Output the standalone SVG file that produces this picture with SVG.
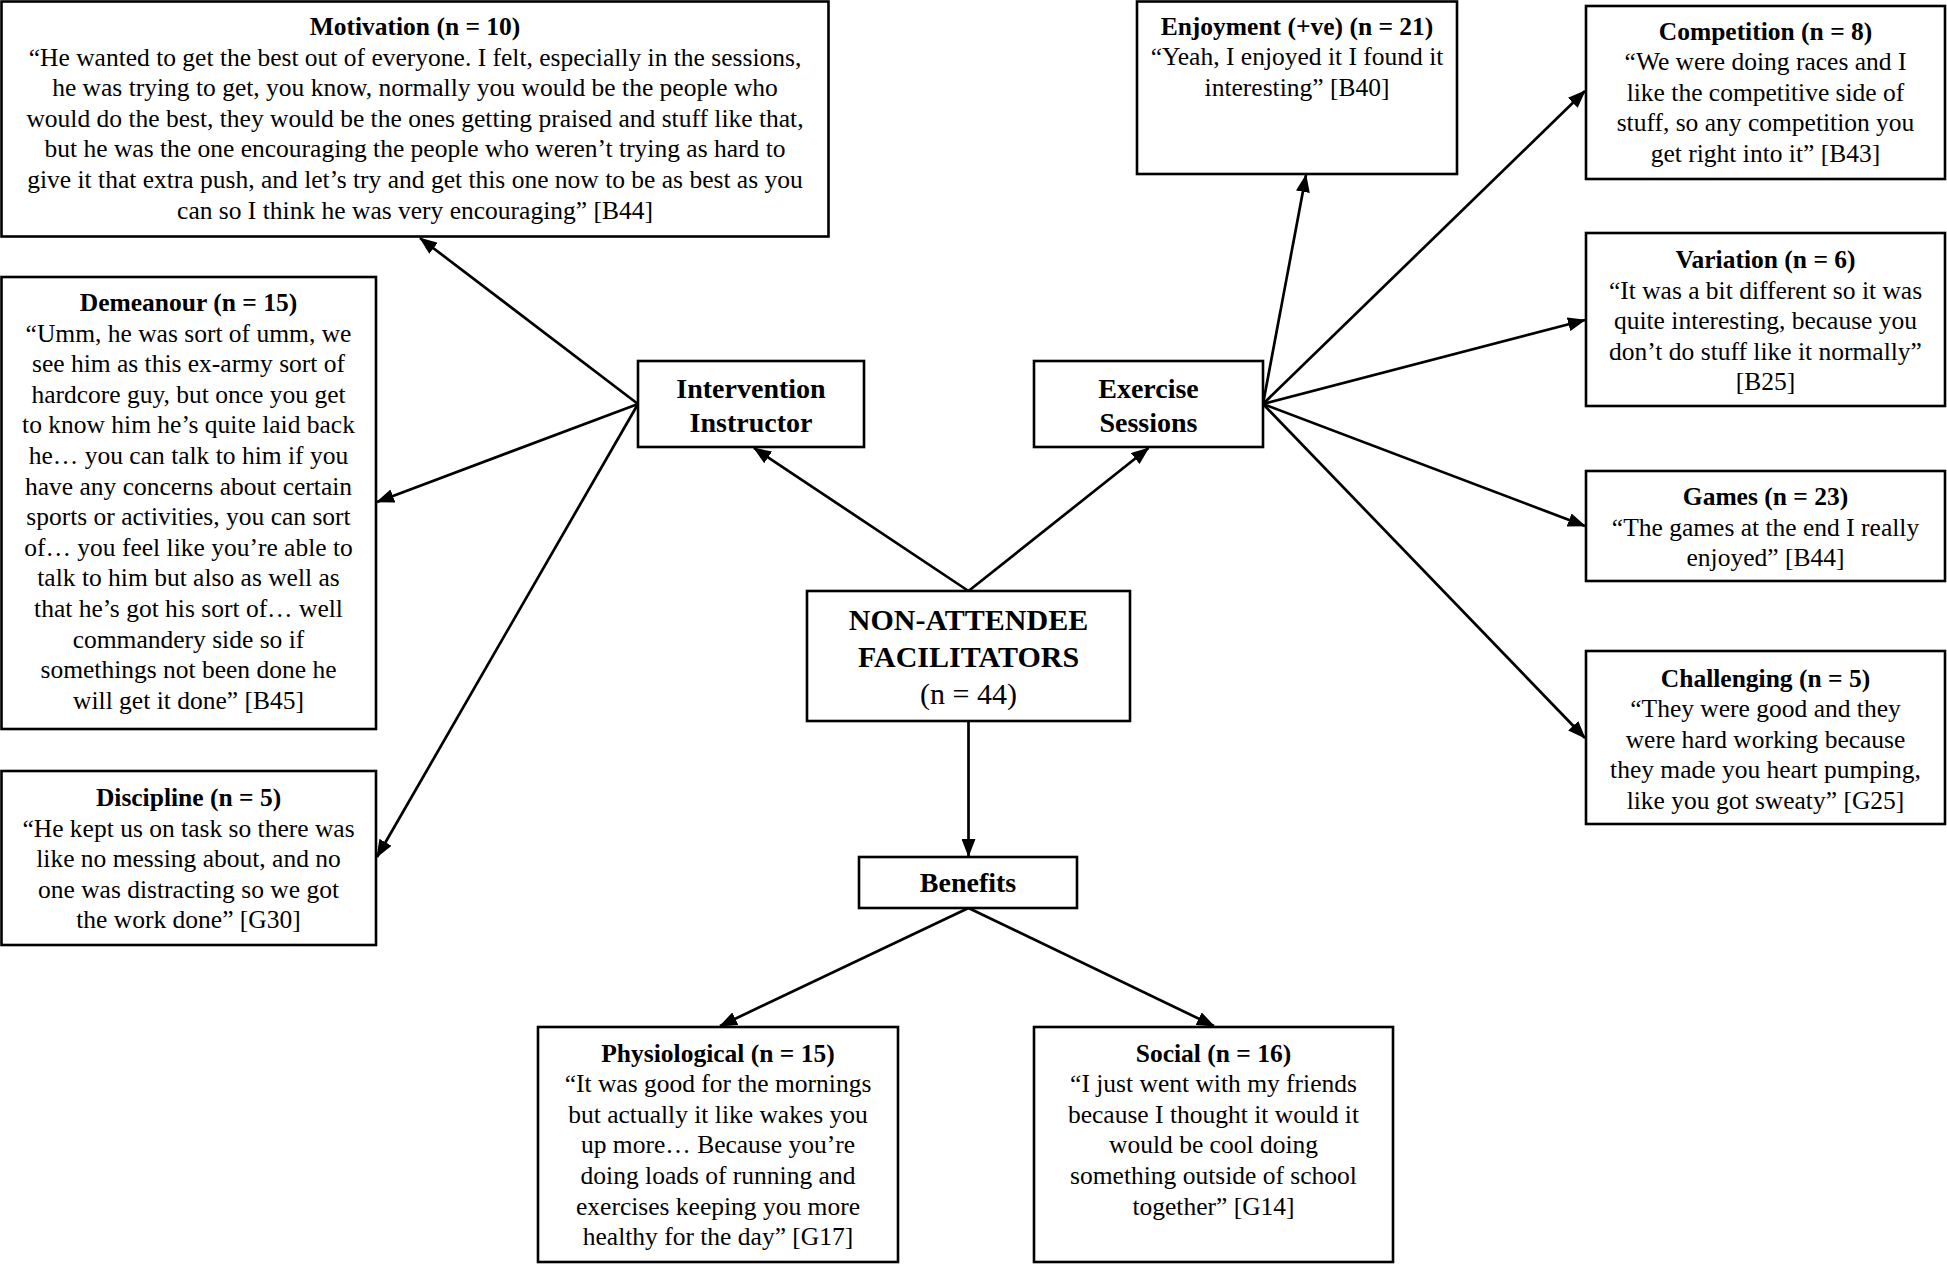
<svg xmlns="http://www.w3.org/2000/svg" width="1947" height="1264" viewBox="0 0 1947 1264">
<style>
.box{fill:#fff;stroke:#000;stroke-width:2.6}
text{font-family:"Liberation Serif","Times New Roman",serif;fill:#000;text-anchor:middle}
.t{font-size:25.5px}
.h{font-size:25.5px;font-weight:bold}
.m{font-size:28px;font-weight:bold}
.c{font-size:30px;font-weight:bold}
.cn{font-size:30px}
.edge{stroke:#000;stroke-width:2.7;fill:none;marker-end:url(#arr)}
</style>
<defs>
<marker id="arr" markerUnits="userSpaceOnUse" markerWidth="18" markerHeight="14" refX="17" refY="7" orient="auto">
<path d="M0,0 L18,7 L0,14 z" fill="#000"/>
</marker>
</defs>
<rect width="1947" height="1264" fill="#fff"/>
<g id="connectors">
<line class="edge" x1="968.5" y1="591" x2="754" y2="448"/>
<line class="edge" x1="968.5" y1="591" x2="1148.5" y2="448"/>
<line class="edge" x1="968.5" y1="721" x2="968.5" y2="856"/>
<line class="edge" x1="968.5" y1="908" x2="720" y2="1026"/>
<line class="edge" x1="968.5" y1="908" x2="1214" y2="1026"/>
<line class="edge" x1="638" y1="404" x2="420" y2="238"/>
<line class="edge" x1="638" y1="404" x2="377" y2="502"/>
<line class="edge" x1="638" y1="404" x2="377" y2="857"/>
<line class="edge" x1="1263" y1="404" x2="1306" y2="175"/>
<line class="edge" x1="1263" y1="404" x2="1585" y2="91"/>
<line class="edge" x1="1263" y1="404" x2="1585" y2="320"/>
<line class="edge" x1="1263" y1="404" x2="1585" y2="526"/>
<line class="edge" x1="1263" y1="404" x2="1585" y2="738"/>
</g>
<g id="center">
<rect class="box" x="807" y="591" width="323" height="130"/>
<text class="c" x="968.5" y="630">NON-ATTENDEE</text>
<text class="c" x="968.5" y="667">FACILITATORS</text>
<text class="cn" x="968.5" y="704">(n = 44)</text>
</g>
<g id="instructor">
<rect class="box" x="638" y="361" width="226" height="86"/>
<text class="m" x="751" y="398">Intervention</text>
<text class="m" x="751" y="431.5">Instructor</text>
</g>
<g id="exercise">
<rect class="box" x="1034" y="361" width="229" height="86"/>
<text class="m" x="1148.5" y="398">Exercise</text>
<text class="m" x="1148.5" y="431.5">Sessions</text>
</g>
<g id="benefits">
<rect class="box" x="859" y="857" width="218" height="51"/>
<text class="m" x="968" y="892">Benefits</text>
</g>
<g id="motivation">
<rect class="box" x="1.5" y="1.5" width="827" height="235"/>
<text class="h" x="415" y="35">Motivation (n = 10)</text>
<text class="t" x="415" y="65.6">“He wanted to get the best out of everyone. I felt, especially in the sessions,</text>
<text class="t" x="415" y="96.2">he was trying to get, you know, normally you would be the people who</text>
<text class="t" x="415" y="126.8">would do the best, they would be the ones getting praised and stuff like that,</text>
<text class="t" x="415" y="157.4">but he was the one encouraging the people who weren’t trying as hard to</text>
<text class="t" x="415" y="188">give it that extra push, and let’s try and get this one now to be as best as you</text>
<text class="t" x="415" y="218.6">can so I think he was very encouraging” [B44]</text>
</g>
<g id="demeanour">
<rect class="box" x="1.5" y="277" width="374.5" height="452"/>
<text class="h" x="188.5" y="311">Demeanour (n = 15)</text>
<text class="t" x="188.5" y="341.6">“Umm, he was sort of umm, we</text>
<text class="t" x="188.5" y="372.2">see him as this ex-army sort of</text>
<text class="t" x="188.5" y="402.8">hardcore guy, but once you get</text>
<text class="t" x="188.5" y="433.4">to know him he’s quite laid back</text>
<text class="t" x="188.5" y="464">he… you can talk to him if you</text>
<text class="t" x="188.5" y="494.6">have any concerns about certain</text>
<text class="t" x="188.5" y="525.2">sports or activities, you can sort</text>
<text class="t" x="188.5" y="555.8">of… you feel like you’re able to</text>
<text class="t" x="188.5" y="586.4">talk to him but also as well as</text>
<text class="t" x="188.5" y="617">that he’s got his sort of… well</text>
<text class="t" x="188.5" y="647.6">commandery side so if</text>
<text class="t" x="188.5" y="678.2">somethings not been done he</text>
<text class="t" x="188.5" y="708.8">will get it done” [B45]</text>
</g>
<g id="discipline">
<rect class="box" x="1.5" y="771" width="374.5" height="174"/>
<text class="h" x="188.5" y="806">Discipline (n = 5)</text>
<text class="t" x="188.5" y="836.6">“He kept us on task so there was</text>
<text class="t" x="188.5" y="867.2">like no messing about, and no</text>
<text class="t" x="188.5" y="897.8">one was distracting so we got</text>
<text class="t" x="188.5" y="928.4">the work done” [G30]</text>
</g>
<g id="enjoyment">
<rect class="box" x="1137" y="1.5" width="320" height="172.5"/>
<text class="h" x="1297" y="34.5">Enjoyment (+ve) (n = 21)</text>
<text class="t" x="1297" y="65.1">“Yeah, I enjoyed it I found it</text>
<text class="t" x="1297" y="95.7">interesting” [B40]</text>
</g>
<g id="competition">
<rect class="box" x="1586" y="6" width="359" height="173"/>
<text class="h" x="1765.5" y="39.5">Competition (n = 8)</text>
<text class="t" x="1765.5" y="70.1">“We were doing races and I</text>
<text class="t" x="1765.5" y="100.7">like the competitive side of</text>
<text class="t" x="1765.5" y="131.3">stuff, so any competition you</text>
<text class="t" x="1765.5" y="161.9">get right into it” [B43]</text>
</g>
<g id="variation">
<rect class="box" x="1586" y="233" width="359" height="173"/>
<text class="h" x="1765.5" y="268">Variation (n = 6)</text>
<text class="t" x="1765.5" y="298.6">“It was a bit different so it was</text>
<text class="t" x="1765.5" y="329.2">quite interesting, because you</text>
<text class="t" x="1765.5" y="359.8">don’t do stuff like it normally”</text>
<text class="t" x="1765.5" y="390.4">[B25]</text>
</g>
<g id="games">
<rect class="box" x="1586" y="471" width="359" height="110"/>
<text class="h" x="1765.5" y="505">Games (n = 23)</text>
<text class="t" x="1765.5" y="535.6">“The games at the end I really</text>
<text class="t" x="1765.5" y="566.2">enjoyed” [B44]</text>
</g>
<g id="challenging">
<rect class="box" x="1586" y="651" width="359" height="173"/>
<text class="h" x="1765.5" y="686.5">Challenging (n = 5)</text>
<text class="t" x="1765.5" y="717.1">“They were good and they</text>
<text class="t" x="1765.5" y="747.7">were hard working because</text>
<text class="t" x="1765.5" y="778.3">they made you heart pumping,</text>
<text class="t" x="1765.5" y="808.9">like you got sweaty” [G25]</text>
</g>
<g id="physiological">
<rect class="box" x="538" y="1027" width="360" height="235"/>
<text class="h" x="718" y="1061.5">Physiological (n = 15)</text>
<text class="t" x="718" y="1092.1">“It was good for the mornings</text>
<text class="t" x="718" y="1122.7">but actually it like wakes you</text>
<text class="t" x="718" y="1153.3">up more… Because you’re</text>
<text class="t" x="718" y="1183.9">doing loads of running and</text>
<text class="t" x="718" y="1214.5">exercises keeping you more</text>
<text class="t" x="718" y="1245.1">healthy for the day” [G17]</text>
</g>
<g id="social">
<rect class="box" x="1034" y="1027" width="359" height="235"/>
<text class="h" x="1213.5" y="1061.5">Social (n = 16)</text>
<text class="t" x="1213.5" y="1092.1">“I just went with my friends</text>
<text class="t" x="1213.5" y="1122.7">because I thought it would it</text>
<text class="t" x="1213.5" y="1153.3">would be cool doing</text>
<text class="t" x="1213.5" y="1183.9">something outside of school</text>
<text class="t" x="1213.5" y="1214.5">together” [G14]</text>
</g>
</svg>
